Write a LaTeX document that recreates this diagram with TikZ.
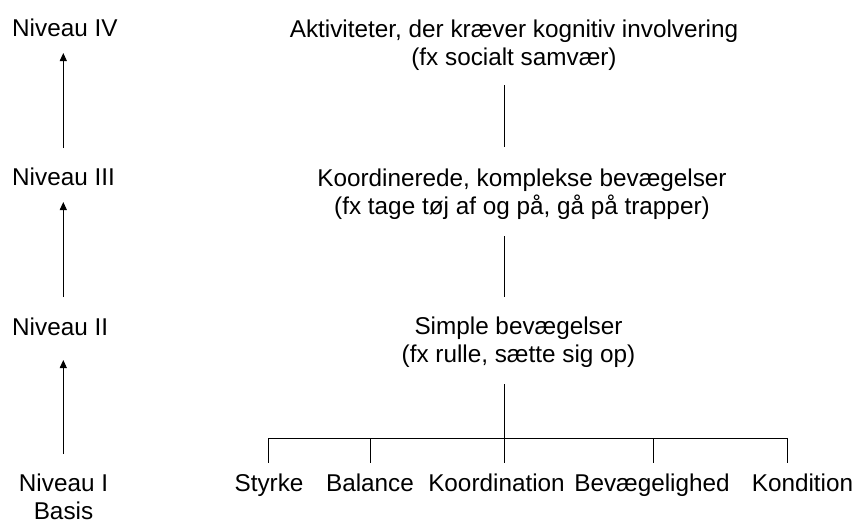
\documentclass[tikz,border=0pt]{standalone}
\usepackage{fontspec}
\setmainfont{Liberation Sans}
\usetikzlibrary{arrows.meta}
\begin{document}
\begin{tikzpicture}[x=1pt,y=-1pt,
  lbl/.style={font=\fontsize{24.3}{27.5}\selectfont, inner sep=0pt, anchor=base, align=center},
  lbll/.style={lbl, anchor=base west, align=left},
  conn/.style={draw=black, line width=1pt},
  uparrow/.style={conn, -{Triangle[length=8pt,width=7pt]}}]
\useasboundingbox (0,0) rectangle (855,523);
% left levels
\node[lbll] (n4) at (12,36) {Niveau IV};
\node[lbll] (n3) at (12,185) {Niveau III};
\node[lbll] (n2) at (12,335) {Niveau II};
\node[lbl] (n1) at (63.5,519) {Niveau I\\Basis};
% arrows
\coordinate (a4t) at (63.3,53);  \coordinate (a4b) at (63.3,148);
\coordinate (a3t) at (63.3,202); \coordinate (a3b) at (63.3,297);
\coordinate (a2t) at (63.3,360); \coordinate (a2b) at (63.3,454);
\draw[uparrow] (a4b) -- (a4t);
\draw[uparrow] (a3b) -- (a3t);
\draw[uparrow] (a2b) -- (a2t);
% right column
\node[lbl] (t4) at (514,65) {Aktiviteter, der kræver kognitiv involvering\\(fx socialt samvær)};
\node[lbl] (t3) at (522,214) {Koordinerede, komplekse bevægelser\\(fx tage tøj af og på, gå på trapper)};
\node[lbl] (t2) at (518.5,362) {Simple bevægelser\\(fx rulle, sætte sig op)};
\coordinate (l4t) at (504,85);  \coordinate (l4b) at (504,147);
\coordinate (l3t) at (504,236); \coordinate (l3b) at (504,297);
\coordinate (l2t) at (504,384); \coordinate (bar) at (504,438);
\draw[conn] (l4t) -- (l4b);
\draw[conn] (l3t) -- (l3b);
\draw[conn] (l2t) -- (bar);
% bottom items
\node[lbl] (s1) at (269,491) {Styrke};
\node[lbl] (s2) at (370,491) {Balance};
\node[lbl] (s3) at (496.5,491) {Koordination};
\node[lbl] (s4) at (652,491) {Bevægelighed};
\node[lbl] (s5) at (802.5,491) {Kondition};
\coordinate (d1) at (268.3,462.5); \coordinate (d2) at (370.7,462.5);
\coordinate (d3) at (504,462.5); \coordinate (d4) at (653.7,462.5);
\coordinate (d5) at (787,462.5);
\draw[conn] (d1) -- (d1 |- bar) -- (d5 |- bar) -- (d5);
\draw[conn] (d2 |- bar) -- (d2);
\draw[conn] (bar) -- (d3);
\draw[conn] (d4 |- bar) -- (d4);
\end{tikzpicture}
\end{document}
